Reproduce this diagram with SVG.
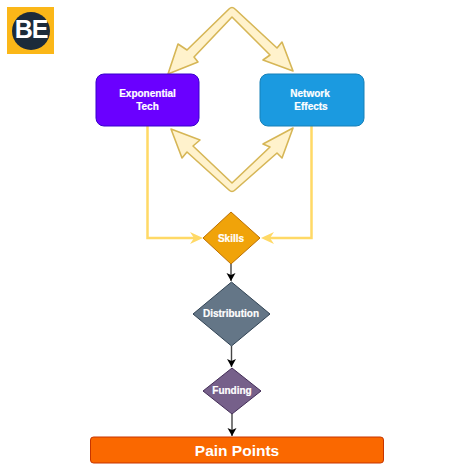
<svg xmlns="http://www.w3.org/2000/svg" width="474" height="474" viewBox="0 0 474 474">
<style>
text{font-family:"Liberation Sans",Arial,sans-serif;font-weight:bold;fill:#fff;text-anchor:middle}
.lbl{font-size:10px;stroke:#fff;stroke-width:.2px}
.big{fill:#fff2cc;stroke:#d6b656;stroke-width:1.6;stroke-linejoin:round}
.yl{fill:none;stroke:#ffd966;stroke-width:2.500}
.yh{fill:#ffd966}
.bl{fill:none;stroke:#444;stroke-width:1.400}
</style>
<defs>
<marker id="ba" markerUnits="userSpaceOnUse" markerWidth="10" markerHeight="10" refX="8" refY="4.5" orient="auto"><path d="M0 0L8 4.5L0 9L2 4.5Z" fill="#000"/></marker>
</defs>
<rect width="474" height="474" fill="#fff"/>
<g id="logo">
<rect x="7" y="7" width="47" height="47" fill="#fbb718"/>
<circle cx="31" cy="31" r="19" fill="#1c2b3a"/>
<text x="31" y="38" style="font-size:25px;letter-spacing:-1px">BE</text>
</g>
<g id="connectors">
<path class="big" d="M168 74L178 44L187 50L229 9Q232 6 235 9L277 48L282 42L293 71L263 60L270 55L232 17L194 57L198 62Z"/>
<path class="big" d="M171 129L200 140L193 146L232 183L270 147L263 144L293 128L282 158L277 153L235 190Q232 193 229 190L187 152L182 158Z"/>
<path class="yl" d="M147.500 126V238H195"/>
<path class="yl" d="M311.500 126V238H268"/>
<path class="yh" d="M203 238L190 232L194 238L190 244Z"/>
<path class="yh" d="M261 238L274 232L270 238L274 244Z"/>
<path class="bl" marker-end="url(#ba)" d="M231 264V281"/>
<path class="bl" marker-end="url(#ba)" d="M231.500 346V367"/>
<path class="bl" marker-end="url(#ba)" d="M232 414V436"/>
</g>
<g id="exponential-tech">
<rect x="96" y="74" width="103" height="52" rx="8" fill="#6a00ff" stroke="#3700cc"/>
<text class="lbl" x="147.500" y="97">Exponential</text>
<text class="lbl" x="147.500" y="110">Tech</text>
</g>
<g id="network-effects">
<rect x="260" y="74" width="104" height="52" rx="8" fill="#1b9ae0" stroke="#1680b8"/>
<text class="lbl" x="310" y="97">Network</text>
<text class="lbl" x="311" y="110">Effects</text>
</g>
<g id="skills">
<path d="M231 212L260 238L231 264L203 238Z" fill="#f0a30a" stroke="#bd7000"/>
<text class="lbl" x="231" y="242">Skills</text>
</g>
<g id="distribution">
<path d="M231.500 282L270 314L231.500 346L193 314Z" fill="#647687" stroke="#314354"/>
<text class="lbl" x="231" y="317">Distribution</text>
</g>
<g id="funding">
<path d="M232 368L261 391L232 414L203 391Z" fill="#76608a" stroke="#432d57"/>
<text class="lbl" x="232" y="394">Funding</text>
</g>
<g id="pain-points">
<rect x="90.500" y="437" width="293" height="26" rx="3" fill="#fa6800" stroke="#c73500"/>
<text x="237" y="455.500" style="font-size:15.500px">Pain Points</text>
</g>
</svg>
